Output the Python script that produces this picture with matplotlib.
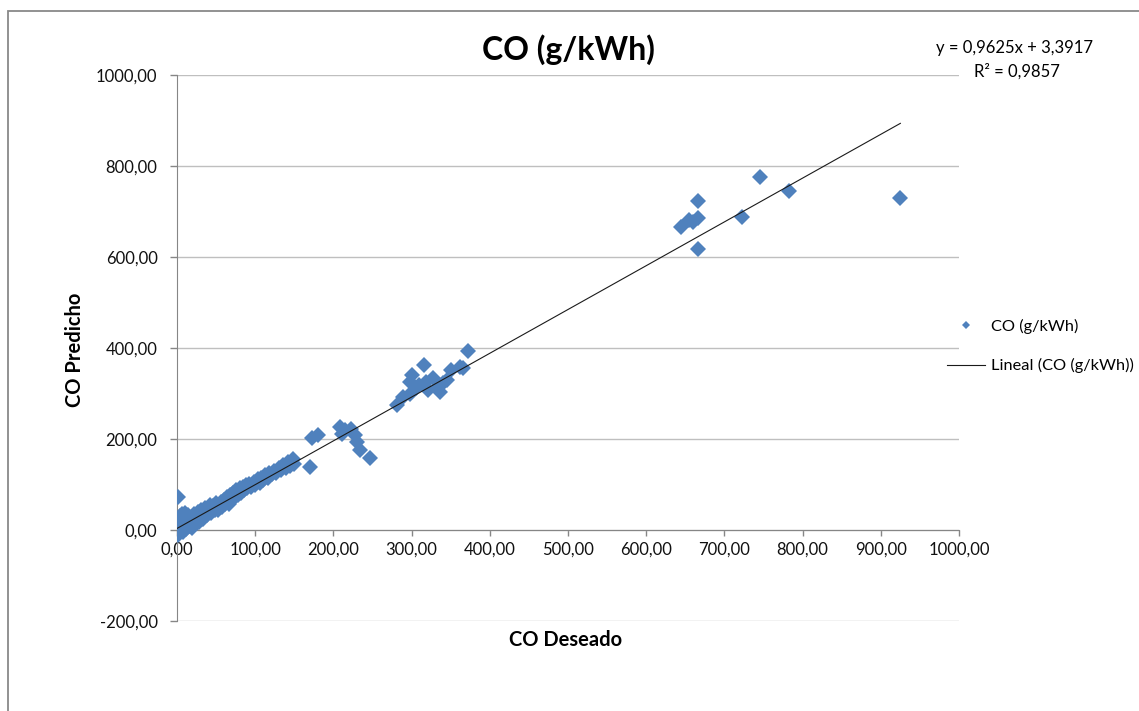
import numpy as np
import matplotlib
matplotlib.use("Agg")
from matplotlib import pyplot as plt
from matplotlib.ticker import FuncFormatter
from matplotlib.patches import Rectangle

plt.rcParams['font.family'] = ['Lato', 'DejaVu Sans']

# CO deseado (x) vs CO predicho (y)
co_deseado = [
    0, 0, 0, 0, 0, 0, 0, 1, 1, 2, 2, 2, 3, 3, 4, 4, 5, 5, 6, 6,
    7, 8, 8, 9, 10, 10, 11, 12, 13, 14, 15, 16, 17, 18, 19, 20,
    22, 23, 24, 25, 27, 28, 30, 31, 33, 35, 36, 38, 40, 42, 44, 46, 48,
    50, 52, 54, 56, 58, 60, 62, 64, 66, 68, 70, 72, 74, 76, 78, 80, 82,
    84, 86, 88, 90, 92, 95, 98, 100, 103, 106, 108, 110, 113, 116, 118,
    121, 124, 127, 130, 133, 136, 139, 142, 145, 148, 150,
    172, 180, 170, 208, 215, 211, 222, 228, 230, 234, 247,
    281, 289, 298, 300, 298, 306, 316, 319, 321, 328, 334, 336, 345,
    351, 362, 366, 372, 310, 340,
    644, 655, 660, 666, 666, 666, 723, 746, 783, 925,
]
co_predicho = [
    -8, -3, 2, 6, 12, 18, 25, 72, -12, 0, 10, 20, -5, 5, 15, 30, -2, 8, 22, 35,
    12, -4, 28, 6, 16, 38, 2, 10, 20, 32, 8, 15, 25, 12, 5, 20,
    36, 15, 30, 22, 40, 18, 28, 44, 25, 38, 48, 32, 42, 55, 38, 52, 45,
    60, 44, 55, 62, 50, 67, 58, 72, 58, 77, 68, 82, 72, 87, 78, 92, 82,
    95, 88, 98, 92, 101, 95, 106, 98, 111, 104, 115, 110, 120, 115, 125,
    122, 130, 126, 136, 132, 143, 137, 150, 141, 157, 146,
    203, 208, 139, 227, 220, 212, 222, 208, 194, 176, 158,
    275, 293, 300, 341, 326, 311, 362, 326, 308, 333, 315, 304, 330,
    352, 359, 355, 393, 318, 322,
    665, 681, 678, 685, 724, 618, 689, 775, 744, 729,
]

# linear trendline reported by the chart
pendiente = 0.9625
intercepto = 3.3917
r2 = 0.9857

x_ticks = np.arange(0, 1001, 100)
y_ticks = np.arange(-200, 1001, 200)

W, H = 1139, 711
fig = plt.figure(figsize=(W / 100, H / 100), dpi=100)
ax = fig.add_axes([177 / W, 1 - 621 / H, (959 - 177) / W, (621 - 75) / H])

grid_col = '#BFBFBF'
axis_col = '#868686'
blue = '#4F81BD'

pts, = ax.plot(co_deseado, co_predicho, linestyle='none', marker='D',
               markersize=8.6, color=blue, markeredgewidth=0,
               label='CO (g/kWh)', zorder=3)

xs = np.array([min(co_deseado), max(co_deseado)])
trend, = ax.plot(xs, pendiente * xs + intercepto, color='#1a1a1a', lw=0.8,
                 label='Lineal (CO (g/kWh))', zorder=4)

ax.set_xlim(0, 1000)
ax.set_ylim(-200, 1000)
ax.set_xticks(x_ticks)
ax.set_yticks(y_ticks)

fmt = FuncFormatter(lambda v, p: f"{v:.2f}".replace('.', ','))
ax.xaxis.set_major_formatter(fmt)
ax.yaxis.set_major_formatter(fmt)

ax.yaxis.grid(True, color=grid_col, lw=1.0)
ax.set_axisbelow(True)

for s in ['top', 'right']:
    ax.spines[s].set_visible(False)
ax.spines['bottom'].set_position(('data', 0))
ax.spines['bottom'].set_color(axis_col)
ax.spines['left'].set_color(axis_col)
ax.spines['bottom'].set_zorder(2)

ax.tick_params(axis='x', direction='out', length=4.5, width=1, color=axis_col,
               labelsize=12, pad=4, labelcolor='#111111')
ax.tick_params(axis='y', direction='out', length=5, width=1, color=axis_col,
               labelsize=12, pad=9, labelcolor='#111111')

fig.text(568 / W, 1 - 50 / H, 'CO (g/kWh)', ha='center', va='center',
         fontsize=23, fontweight='bold')
fig.text(566 / W, 1 - 640 / H, 'CO Deseado', ha='center', va='center',
         fontsize=14.5, fontweight='bold')
fig.text(75 / W, 1 - 350 / H, 'CO Predicho', ha='center', va='center',
         fontsize=14.5, fontweight='bold', rotation=90)

eq = f"y = {pendiente:.4f}x + {intercepto:.4f}".replace('.', ',')
fig.text(1015 / W, 1 - 48 / H, eq, ha='center', va='center', fontsize=12)
fig.text(1017 / W, 1 - 71 / H, f"R² = {r2:.4f}".replace('.', ','),
         ha='center', va='center', fontsize=12)

fig.legend(handles=[pts, trend], loc='center left',
           bbox_to_anchor=(947 / W, 1 - 346 / H), frameon=False,
           borderpad=0, borderaxespad=0, handlelength=2.3, handletextpad=0.4,
           labelspacing=1.5, markerscale=0.5, fontsize=11.8)

# outer chart border
fig.patches.append(Rectangle((8 / W, -0.5), 2, 0.5 + 1 - 11 / H,
                             transform=fig.transFigure, fill=False,
                             edgecolor='#898989', lw=1.3))

plt.savefig('out.png', dpi=100)
